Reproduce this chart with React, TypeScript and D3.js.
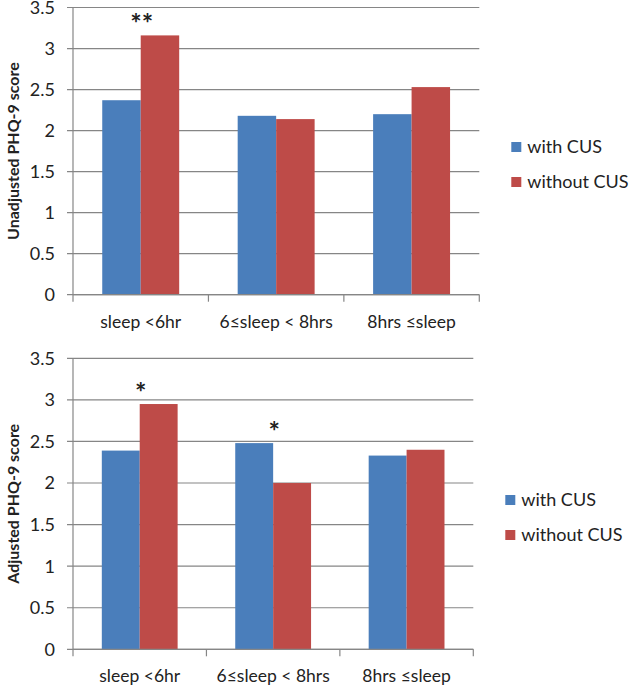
import { useEffect, useRef } from "react";
import * as d3 from "d3";

const categories = ["sleep <6hr", "6≤sleep < 8hrs", "8hrs ≤sleep"];
const seriesNames = ["with CUS", "without CUS"];
const colors = ["#4a7ebb", "#be4b48"];

const unadjustedWith = [2.37, 2.18, 2.2];
const unadjustedWithout = [3.16, 2.14, 2.53];
const unadjustedStars = ["**", "", ""];

const adjustedWith = [2.39, 2.48, 2.33];
const adjustedWithout = [2.95, 2.0, 2.4];
const adjustedStars = ["*", "*", ""];

const yTicks = [0, 0.5, 1, 1.5, 2, 2.5, 3, 3.5];

const FONT = "Lato, 'Open Sans', sans-serif";

interface PanelProps {
  top: number;
  bottom: number;
  right: number;
  legendY: number;
  yLabel: string;
  withVals: number[];
  withoutVals: number[];
  stars: string[];
}

function Panel({ top, bottom, right, legendY, yLabel, withVals, withoutVals, stars }: PanelProps) {
  const ref = useRef<SVGGElement>(null);

  useEffect(() => {
    if (!ref.current) return;
    const g = d3.select(ref.current);
    g.selectAll("*").remove();

    const left = 73;
    const x = d3.scaleBand().domain(categories).range([left, right]).paddingInner(0).paddingOuter(0);
    const inner = d3
      .scaleBand()
      .domain(seriesNames)
      .range([0, x.bandwidth()])
      .paddingOuter(0.76)
      .paddingInner(0);
    const y = d3.scaleLinear().domain([0, 3.5]).range([bottom, top]);

    // gridlines
    g.append("g")
      .selectAll("line")
      .data(yTicks)
      .join("line")
      .attr("x1", left - 6)
      .attr("x2", right)
      .attr("y1", (d) => y(d))
      .attr("y2", (d) => y(d))
      .attr("stroke", "#868686")
      .attr("stroke-width", 1.2);

    // y tick labels
    g.append("g")
      .selectAll("text")
      .data(yTicks)
      .join("text")
      .attr("x", left - 18)
      .attr("y", (d) => y(d))
      .attr("dy", "0.36em")
      .attr("text-anchor", "end")
      .attr("font-family", FONT)
      .attr("font-size", 18)
      .attr("fill", "#222")
      .text((d) => String(d));

    // bars
    const rows = categories.map((c, i) => ({ c, vals: [withVals[i], withoutVals[i]] }));
    const grp = g
      .append("g")
      .selectAll("g")
      .data(rows)
      .join("g")
      .attr("transform", (d) => `translate(${x(d.c)},0)`);
    grp
      .selectAll("rect")
      .data((d) => d.vals.map((v, j) => ({ v, s: seriesNames[j], j })))
      .join("rect")
      .attr("x", (d) => inner(d.s)!)
      .attr("width", inner.bandwidth())
      .attr("y", (d) => y(d.v))
      .attr("height", (d) => bottom - y(d.v))
      .attr("fill", (d) => colors[d.j]);

    // significance stars
    grp
      .append("text")
      .attr("x", x.bandwidth() / 2 + 1)
      .attr("y", (d) => y(d3.max(d.vals)!) - 2)
      .attr("text-anchor", "middle")
      .attr("font-family", FONT)
      .attr("font-size", 27)
      .attr("font-weight", "bold")
      .attr("fill", "#222")
      .text((_, i) => stars[i]);

    // axes
    g.append("line")
      .attr("x1", left)
      .attr("x2", left)
      .attr("y1", top)
      .attr("y2", bottom)
      .attr("stroke", "#868686")
      .attr("stroke-width", 1.2);
    g.append("line")
      .attr("x1", left)
      .attr("x2", right)
      .attr("y1", bottom)
      .attr("y2", bottom)
      .attr("stroke", "#868686")
      .attr("stroke-width", 1.2);
    const bounds = [...categories.map((c) => x(c)!), right];
    g.append("g")
      .selectAll("line")
      .data(bounds)
      .join("line")
      .attr("x1", (d) => d)
      .attr("x2", (d) => d)
      .attr("y1", bottom)
      .attr("y2", bottom + 7)
      .attr("stroke", "#868686")
      .attr("stroke-width", 1.2);

    // x labels
    g.append("g")
      .selectAll("text")
      .data(categories)
      .join("text")
      .attr("x", (d) => x(d)! + x.bandwidth() / 2)
      .attr("y", bottom + 33)
      .attr("text-anchor", "middle")
      .attr("font-family", FONT)
      .attr("font-size", 17.5)
      .attr("fill", "#222")
      .text((d) => d);

    // y label
    g.append("text")
      .attr("transform", `translate(19,${(top + bottom) / 2}) rotate(-90)`)
      .attr("text-anchor", "middle")
      .attr("font-family", FONT)
      .attr("font-size", 16)
      .attr("font-weight", "bold")
      .attr("fill", "#222")
      .text(yLabel);

    // legend
    const lg = g
      .append("g")
      .selectAll("g")
      .data(seriesNames)
      .join("g")
      .attr("transform", (_, i) => `translate(${right + 32},${legendY + i * 35})`);
    lg.append("rect")
      .attr("x", 0)
      .attr("y", -5)
      .attr("width", 10)
      .attr("height", 10)
      .attr("fill", (_, i) => colors[i]);
    lg.append("text")
      .attr("x", 16)
      .attr("y", 0)
      .attr("dy", "0.36em")
      .attr("font-family", FONT)
      .attr("font-size", 18)
      .attr("fill", "#222")
      .text((d) => d);
  }, [top, bottom, right, legendY, yLabel, withVals, withoutVals, stars]);

  return <g ref={ref} />;
}

export default function App() {
  return (
    <div style={{ position: "absolute", left: 0, top: 0 }}>
      <svg width={629} height={689} style={{ display: "block", background: "#fff" }}>
        <Panel
          top={7.5}
          bottom={294.7}
          right={479.3}
          legendY={147}
          yLabel="Unadjusted PHQ-9 score"
          withVals={unadjustedWith}
          withoutVals={unadjustedWithout}
          stars={unadjustedStars}
        />
        <Panel
          top={358.3}
          bottom={649.3}
          right={473.3}
          legendY={500}
          yLabel="Adjusted PHQ-9 score"
          withVals={adjustedWith}
          withoutVals={adjustedWithout}
          stars={adjustedStars}
        />
      </svg>
    </div>
  );
}
